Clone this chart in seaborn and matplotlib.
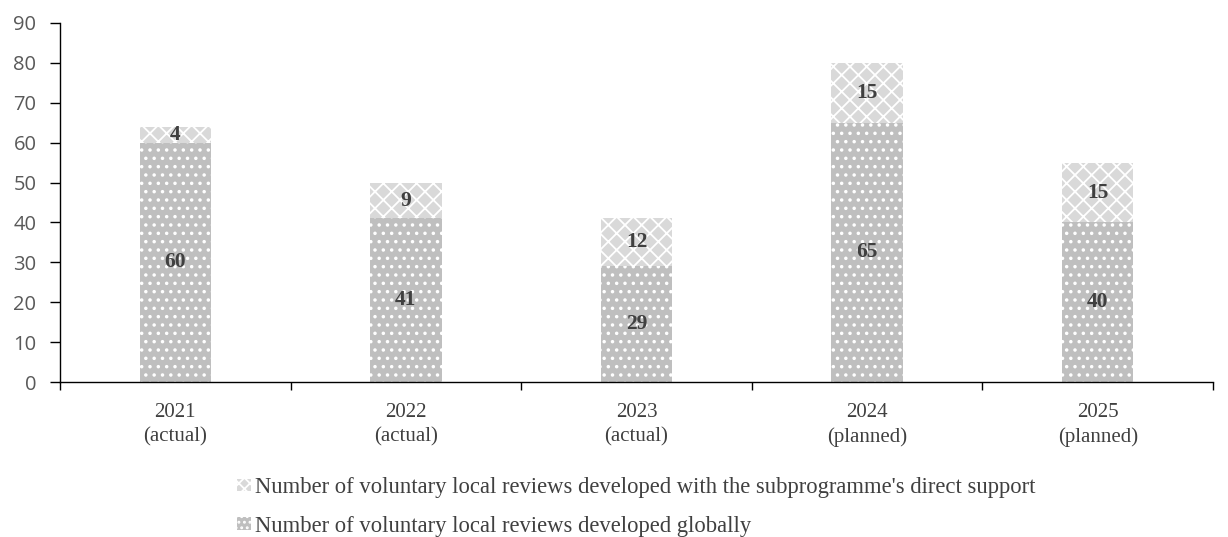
import matplotlib
matplotlib.use("Agg")
import matplotlib.pyplot as plt
import seaborn as sns
import pandas as pd
import numpy as np
from matplotlib.patches import Patch

categories = ["2021\n(actual)", "2022\n(actual)", "2023\n(actual)", "2024\n(planned)", "2025\n(planned)"]
global_reviews = [60, 41, 29, 65, 40]
support_reviews = [4, 9, 12, 15, 15]
label_global = "Number of voluntary local reviews developed globally"
label_support = "Number of voluntary local reviews developed with the subprogramme's direct support"

sns.set_theme(style="white")
plt.rcParams["hatch.linewidth"] = 1.3

df = pd.DataFrame({"cat": categories, "glob": global_reviews, "sup": support_reviews})
df["total"] = df["glob"] + df["sup"]

fig = plt.figure(figsize=(12.28, 5.37), dpi=100)
ax = fig.add_axes([60/1228, 1-382/537, (1213-60)/1228, (382-23)/537])

c_top = "#d9d9d9"
c_bot = "#bfbfbf"

sns.barplot(data=df, x="cat", y="total", color=c_top, width=0.31, ax=ax,
            saturation=1, hatch="xx", edgecolor="white", linewidth=0)
sns.barplot(data=df, x="cat", y="glob", color=c_bot, width=0.31, ax=ax,
            saturation=1, hatch="..", edgecolor="white", linewidth=0)

serif = "Liberation Serif"
for i, (g, s) in enumerate(zip(global_reviews, support_reviews)):
    ax.text(i, g / 2, str(g), ha="center", va="center", fontsize=15.5,
            fontweight="bold", family=serif, color="#404040")
    ax.text(i, g + s / 2, str(s), ha="center", va="center", fontsize=15.5,
            fontweight="bold", family=serif, color="#404040")

ax.set_xlim(-0.5, 4.5)
ax.set_ylim(0, 90)
ax.set_yticks(range(0, 91, 10))
ax.set_xlabel("")
ax.set_ylabel("")
for sp in ["top", "right"]:
    ax.spines[sp].set_visible(False)
for sp in ["left", "bottom"]:
    ax.spines[sp].set_color("black")
    ax.spines[sp].set_linewidth(1.0)

ax.tick_params(axis="y", which="major", left=True, length=7, width=1, color="black",
               labelsize=14.5, labelcolor="#595959", direction="out", pad=10)
for lab in ax.get_yticklabels():
    lab.set_family("Open Sans")
ax.set_xticks(np.arange(-0.5, 5, 1.0), minor=True)
ax.tick_params(axis="x", which="major", length=0, labelsize=15, labelcolor="#404040", pad=15)
ax.tick_params(axis="x", which="minor", bottom=True, length=6, width=1, color="black", direction="out")
for lab in ax.get_xticklabels():
    lab.set_family(serif)
    lab.set_linespacing(1.35)

handles = [Patch(facecolor=c_top, edgecolor="white", hatch="xxx", linewidth=0, label=label_support),
           Patch(facecolor=c_bot, edgecolor="white", hatch="...", linewidth=0, label=label_global)]
leg = fig.legend(handles=handles, loc="upper left", bbox_to_anchor=(237/1228, 1-477/537),
                 frameon=False, handlelength=0.62, handleheight=0.5, handletextpad=0.18,
                 labelspacing=0.78, borderpad=0, borderaxespad=0,
                 prop={"family": serif, "size": 16.3})
for t in leg.get_texts():
    t.set_color("#404040")

fig.savefig("out.png", dpi=100)
